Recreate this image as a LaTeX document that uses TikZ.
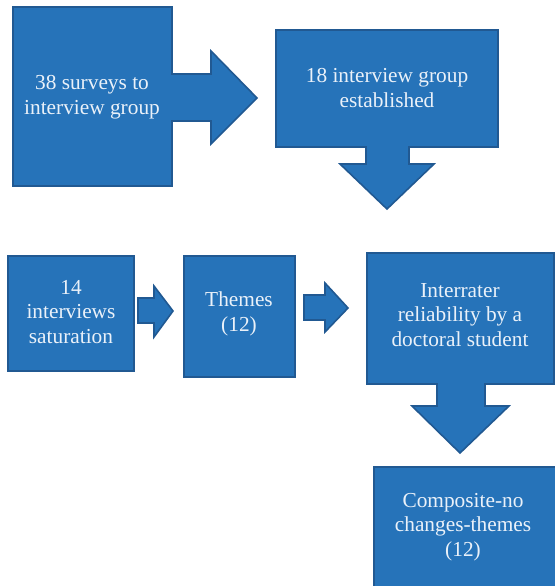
\documentclass[tikz,border=0pt]{standalone}
\usepackage{fontspec}
\setmainfont{Liberation Serif}
\definecolor{boxblue}{RGB}{38,115,185}
\definecolor{edgeblue}{RGB}{33,89,146}
\definecolor{textwhite}{RGB}{234,241,249}
\tikzset{
	shapeblue/.style={fill=boxblue,draw=edgeblue,line width=1.2pt,line join=miter},
	boxtext/.style={text=textwhite,align=center,inner sep=0.75pt,font=\fontsize{16}{18.5}\selectfont}
}

\begin{document}
\begin{tikzpicture}[x=0.75pt,y=0.75pt,yscale=-1,xscale=1]
	\useasboundingbox (0,0) rectangle (555,586);
	% top row callouts
	\draw [shapeblue] (13,7) -- (172,7) -- (172,74) -- (211,74) -- (211,51) -- (257,98) -- (211,144) -- (211,121) -- (172,121) -- (172,186) -- (13,186) -- cycle ;
	\draw [shapeblue] (276,30) -- (498,30) -- (498,147) -- (409,147) -- (409,164) -- (434,164) -- (387,209) -- (340,164) -- (366,164) -- (366,147) -- (276,147) -- cycle ;
	% second row
	\draw [shapeblue] (8,256) rectangle (134,371) ;
	\draw [shapeblue] (138,298) -- (154,298) -- (154,286) -- (173,311) -- (154,337) -- (154,323) -- (138,323) -- cycle ;
	\draw [shapeblue] (184,256) rectangle (295,377) ;
	\draw [shapeblue] (304,295) -- (325,295) -- (325,283) -- (348,308) -- (325,332) -- (325,320) -- (304,320) -- cycle ;
	\draw [shapeblue] (367,253) -- (554,253) -- (554,384) -- (485,384) -- (485,406) -- (509,406) -- (460,453) -- (412,406) -- (437,406) -- (437,384) -- (367,384) -- cycle ;
	\draw [shapeblue] (374,467) rectangle (562,594) ;
	% labels
	\draw (92,97) node [boxtext] (surveys) {38 surveys to\\interview group};
	\draw (387,88) node [boxtext] (group) {18 interview group\\established};
	\draw (71,312) node [boxtext] (saturation) {14\\interviews\\saturation};
	\draw (239,314) node [boxtext] (themes) {Themes\\(12)};
	\draw (460,315) node [boxtext] (interrater) {Interrater\\reliability by a\\doctoral student};
	\draw (463,527) node [boxtext] (composite) {Composite-no\\changes-themes\\(12)};
\end{tikzpicture}
\end{document}
